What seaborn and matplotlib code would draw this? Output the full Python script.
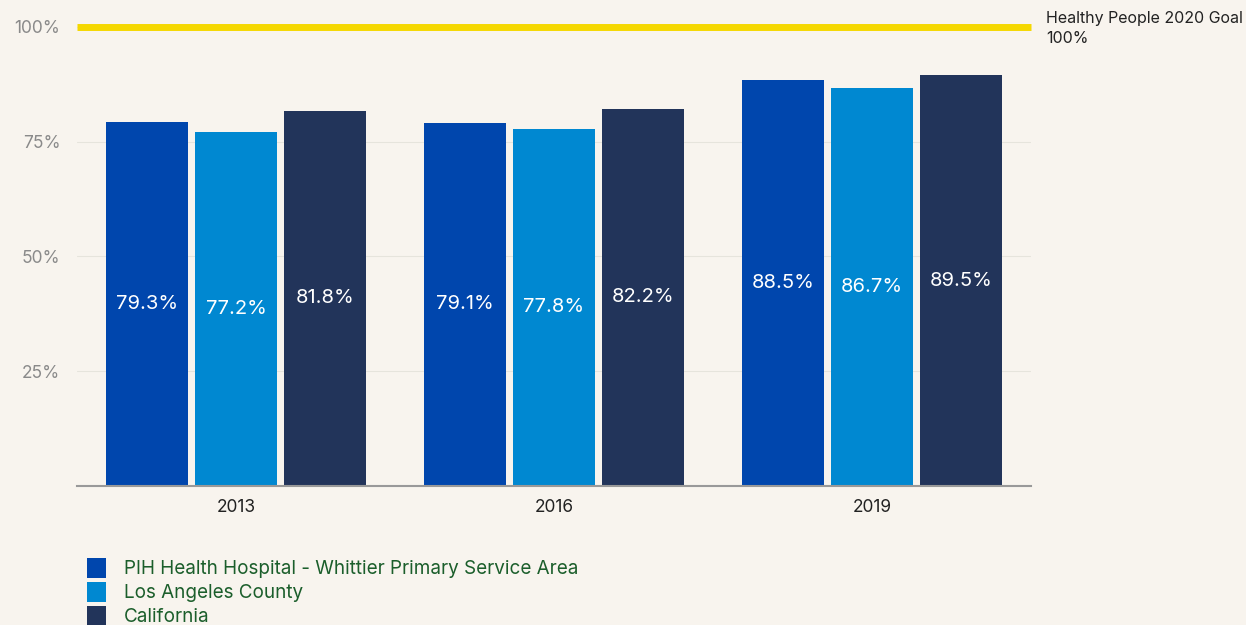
import matplotlib
matplotlib.use("Agg")
import matplotlib.pyplot as plt
from matplotlib.patches import Patch
import seaborn as sns
import pandas as pd

years = ["2013", "2016", "2019"]
areas = ["PIH Health Hospital - Whittier Primary Service Area", "Los Angeles County", "California"]
pih = [79.3, 79.1, 88.5]
la_county = [77.2, 77.8, 86.7]
california = [81.8, 82.2, 89.5]
goal = 100
goal_label = "Healthy People 2020 Goal\n100%"
yticks = [25, 50, 75, 100]

colors = ["#0046AD", "#0088D1", "#22345A"]
bg = "#F8F4EE"

rows = []
for i, y in enumerate(years):
    for area, vals in zip(areas, [pih, la_county, california]):
        rows.append({"year": y, "area": area, "value": vals[i]})
df = pd.DataFrame(rows)

sns.set_style("white")
plt.rcParams["font.family"] = ["Inter", "DejaVu Sans"]

fig = plt.figure(figsize=(12.46, 6.25), dpi=100, facecolor=bg)
ax = fig.add_axes([77 / 1246, 1 - 486 / 625, (1031 - 77) / 1246, (486 - 27) / 625])
ax.set_facecolor(bg)

sns.barplot(data=df, x="year", y="value", hue="area", hue_order=areas,
            palette=colors, width=0.84, gap=0.08, ax=ax, legend=False,
            saturation=1, linewidth=0)

for cont in ax.containers:
    for bar in cont:
        h = bar.get_height()
        ax.text(bar.get_x() + bar.get_width() / 2, h / 2, f"{h:.1f}%",
                ha="center", va="center", color="white", fontsize=14.5)

ax.set_xlim(-0.5, 2.5)
ax.set_ylim(0, 100)
ax.set_yticks(yticks)
ax.set_yticklabels([f"{t}%" for t in yticks])
ax.yaxis.grid(True, color="#E6E4DC", linewidth=0.8)
ax.set_axisbelow(True)
ax.set_xlabel("")
ax.set_ylabel("")
for s in ["top", "right", "left"]:
    ax.spines[s].set_visible(False)
ax.spines["bottom"].set_color("#999999")
ax.spines["bottom"].set_linewidth(1.5)
ax.tick_params(axis="y", length=0, labelsize=12.5, labelcolor="#8A8A8A", pad=12)
ax.tick_params(axis="x", length=0, labelsize=12.5, labelcolor="#222222", pad=9)

ax.axhline(goal, color="#F5D800", linewidth=5, clip_on=False, zorder=5,
           solid_capstyle="butt")
fig.text(1046 / 1246, 1 - 11 / 625, goal_label, ha="left", va="top",
         fontsize=11.5, color="#222222", linespacing=1.45)

handles = [Patch(facecolor=c, edgecolor="none") for c in colors]
fig.legend(handles, areas, loc="upper left", bbox_to_anchor=(79 / 1246, 1 - 550 / 625),
           frameon=False, fontsize=13.6, labelcolor="#1B5E2B", handlelength=1.05,
           handleheight=1.3, labelspacing=0.18, handletextpad=0.95, borderaxespad=0)

fig.savefig("out.png", dpi=100, facecolor=bg)
